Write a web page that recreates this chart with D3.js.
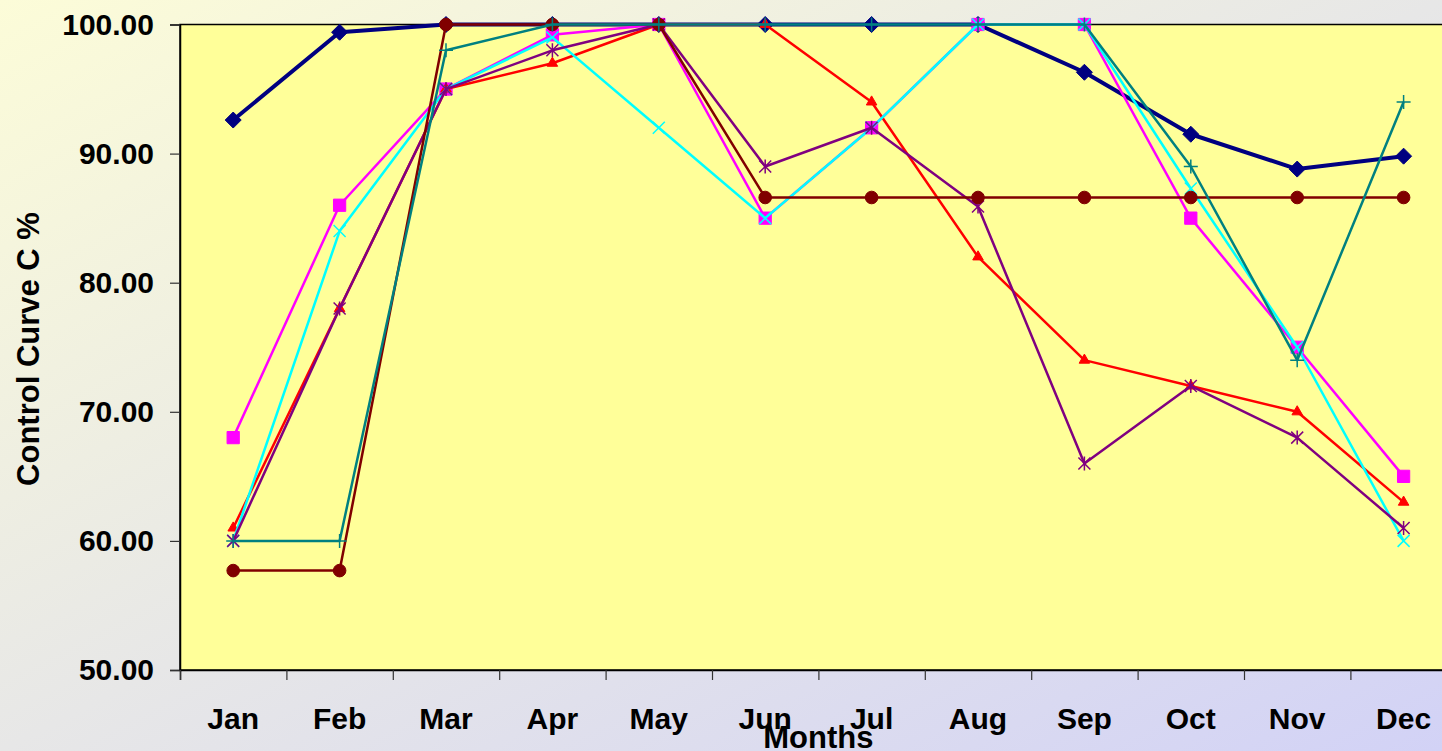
<!DOCTYPE html>
<html>
<head>
<meta charset="utf-8">
<script src="https://cdn.jsdelivr.net/npm/d3@7"></script>
<style>
  html, body { margin: 0; padding: 0; overflow: hidden; }
  svg { display: block; }
  text { font-family: "Liberation Sans", Arial, sans-serif; font-weight: bold; fill: #000; }
</style>
</head>
<body>
<svg id="chart" width="1442" height="751"></svg>
<script>
// Monthly control curve C values (%) for each series
const months = ["Jan", "Feb", "Mar", "Apr", "May", "Jun", "Jul", "Aug", "Sep", "Oct", "Nov", "Dec"];
const yTicks = [50, 60, 70, 80, 90, 100];

const seriesDiamond  = [92.6, 99.4, 100, 100, 100, 100, 100, 100, 96.3, 91.5, 88.8, 89.8];
const seriesSquare   = [68, 86, 95, 99.2, 100, 85, 92, 100, 100, 85, 75, 65];
const seriesTriangle = [61, 78, 95, 97, 100, 100, 94, 82, 74, 72, 70, 63];
const seriesCross    = [60, 84, 95, 99, 92, 85, 92, 100, 100, 87.3, 75, 60];
const seriesStar     = [60, 78, 95, 98, 100, 89, 92, 85.9, 66, 72, 68, 61];
const seriesCircle   = [57.7, 57.7, 100, 100, 100, 86.6, 86.6, 86.6, 86.6, 86.6, 86.6, 86.6];
const seriesPlus     = [60, 60, 98, 100, 100, 100, 100, 100, 100, 89, 74, 94];

const series = [
  { values: seriesDiamond,  color: "#000080", width: 4,   marker: "diamond" },
  { values: seriesSquare,   color: "#FF00FF", width: 2.5, marker: "square" },
  { values: seriesTriangle, color: "#FF0000", width: 2.5, marker: "triangle" },
  { values: seriesCross,    color: "#00FFFF", width: 2.5, marker: "cross" },
  { values: seriesStar,     color: "#800080", width: 2.5, marker: "star" },
  { values: seriesCircle,   color: "#800000", width: 2.5, marker: "circle" },
  { values: seriesPlus,     color: "#008080", width: 2.5, marker: "plus" }
];

const svg = d3.select("#chart");
const W = 1442, H = 751;

// Background gradient
const defs = svg.append("defs");
const grad = defs.append("linearGradient")
  .attr("id", "bg").attr("x1", 0).attr("y1", 0).attr("x2", 1).attr("y2", 1);
grad.append("stop").attr("offset", "0%").attr("stop-color", "#FCFCD8");
grad.append("stop").attr("offset", "100%").attr("stop-color", "#D2D2F6");
svg.append("rect").attr("width", W).attr("height", H).attr("fill", "url(#bg)");

const plotLeft = 180, plotTop = 24.5, plotBottom = 670;
const band = 106.4;
const plotRight = plotLeft + band * months.length;

const x = d3.scaleBand().domain(months).range([plotLeft, plotRight]).paddingInner(0).paddingOuter(0);
const y = d3.scaleLinear().domain([50, 100]).range([plotBottom, plotTop]);

// Plot area
svg.append("rect")
  .attr("x", plotLeft).attr("y", plotTop)
  .attr("width", plotRight - plotLeft).attr("height", plotBottom - plotTop)
  .attr("fill", "#FFFF99")
  .attr("stroke", "#000").attr("stroke-width", 1.5);

// Y axis
const yAxis = d3.axisLeft(y).tickValues(yTicks).tickFormat(d3.format(".2f")).tickSize(10).tickPadding(16);
const gy = svg.append("g").attr("transform", `translate(${plotLeft},0)`).call(yAxis);
gy.select(".domain").attr("stroke", "#000").attr("stroke-width", 1.5);
gy.selectAll(".tick line").attr("stroke", "#333").attr("stroke-width", 1.2);
gy.selectAll(".tick text").style("font-size", "30px").style("font-family", "'Liberation Sans', Arial, sans-serif")
  .style("font-weight", "bold").attr("fill", "#000");

// X axis: ticks at month boundaries, labels at band centres
const xb = d3.scaleLinear().domain([0, months.length]).range([plotLeft, plotRight]);
const gx = svg.append("g").attr("transform", `translate(0,${plotBottom})`)
  .call(d3.axisBottom(xb).tickValues(d3.range(months.length + 1)).tickFormat("").tickSize(10));
gx.select(".domain").attr("stroke", "#000").attr("stroke-width", 1.5);
gx.selectAll(".tick line").attr("stroke", "#333").attr("stroke-width", 1.2);

svg.append("g").selectAll("text").data(months).join("text")
  .attr("x", d => x(d) + x.bandwidth() / 2)
  .attr("y", 729)
  .attr("text-anchor", "middle")
  .style("font-size", "30px")
  .text(d => d);

// Axis titles
svg.append("text")
  .attr("x", (plotLeft + plotRight) / 2).attr("y", 748)
  .attr("text-anchor", "middle")
  .style("font-size", "31px")
  .text("Months");

svg.append("text")
  .attr("transform", `translate(39,349) rotate(-90)`)
  .attr("text-anchor", "middle")
  .style("font-size", "31px")
  .text("Control Curve C %");

// Marker shapes
function markerPath(type) {
  switch (type) {
    case "diamond": return "M0,-8L8,0L0,8L-8,0Z";
    case "square": return d3.symbol(d3.symbolSquare, 150)();
    case "triangle": return d3.symbol(d3.symbolTriangle, 48)();
    case "circle": return d3.symbol(d3.symbolCircle, 125)();
    case "cross": return "M-6,-6L6,6M-6,6L6,-6";
    case "star": return "M-6,-6L6,6M-6,6L6,-6M0,-7L0,7";
    case "plus": return "M-7,0L7,0M0,-7L0,7";
  }
}
const stroked = new Set(["cross", "star", "plus"]);

const line = d3.line()
  .x((d, i) => x(months[i]) + x.bandwidth() / 2)
  .y(d => y(d));

series.forEach(s => {
  const g = svg.append("g");
  g.append("path")
    .datum(s.values)
    .attr("d", line)
    .attr("fill", "none")
    .attr("stroke", s.color)
    .attr("stroke-width", s.width)
    .attr("stroke-linejoin", "round");
  g.selectAll("path.m").data(s.values).join("path")
    .attr("class", "m")
    .attr("transform", (d, i) => `translate(${x(months[i]) + x.bandwidth() / 2},${y(d)})`)
    .attr("d", markerPath(s.marker))
    .attr("fill", stroked.has(s.marker) ? "none" : s.color)
    .attr("stroke", s.color)
    .attr("stroke-width", stroked.has(s.marker) ? 1.5 : 1);
});
</script>
</body>
</html>
